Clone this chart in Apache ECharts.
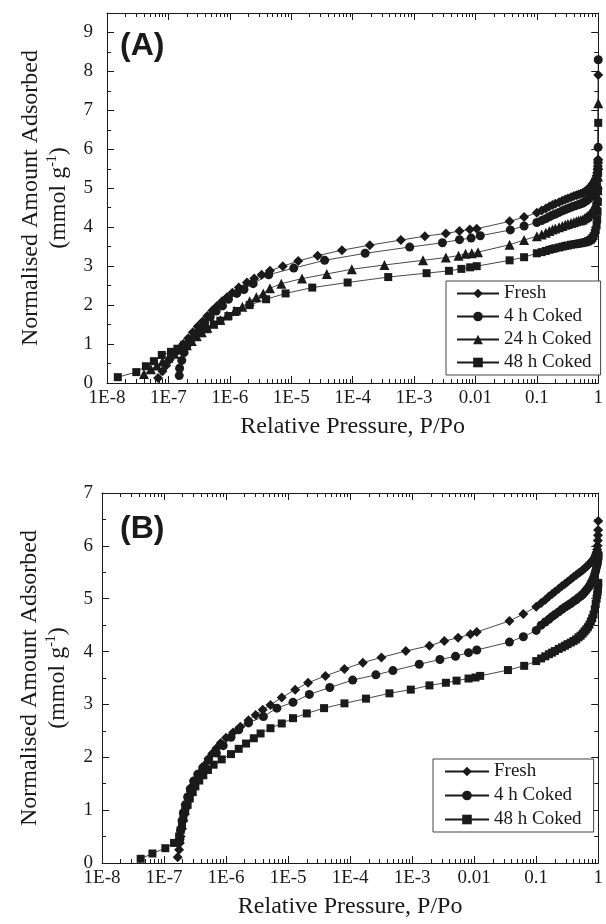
<!DOCTYPE html>
<html>
<head>
<meta charset="utf-8">
<script src="https://cdn.jsdelivr.net/npm/echarts@6/dist/echarts.min.js"></script>
<style>
  html, body { margin: 0; padding: 0; background: #fff; }
  #chart { width: 606px; height: 924px; }
</style>
</head>
<body>
<div id="chart"></div>
<script>
// Nitrogen isotherms, (A) and (B). x = P/Po (log), y = mmol/g.
var seriesNames = ['Fresh', '4 h Coked', '24 h Coked', '48 h Coked'];
var decadeTicks = ['1E-8', '1E-7', '1E-6', '1E-5', '1E-4', '1E-3', '0.01', '0.1', '1'];

// low / mid pressure points, [P/Po, amount]
var freshA = [[6.8e-8,0.13],[8e-8,0.3],[9.2e-8,0.45],[1.05e-7,0.6],[1.25e-7,0.75],[1.5e-7,0.88],[1.75e-7,1.0],[2.1e-7,1.15],[2.5e-7,1.3],[3e-7,1.45],[3.6e-7,1.58],[4.3e-7,1.72],[5.2e-7,1.86],[6.2e-7,1.98],[7.5e-7,2.1],[9e-7,2.2],[1.1e-6,2.32],[1.4e-6,2.45],[1.9e-6,2.58],[2.5e-6,2.68],[3.3e-6,2.78],[4.5e-6,2.88],[7.3e-6,3.0],[1.3e-5,3.13],[2.7e-5,3.27],[6.7e-5,3.41],[1.9e-4,3.54],[6.1e-4,3.67],[1.5e-3,3.77],[3.3e-3,3.84],[5.5e-3,3.9],[8.1e-3,3.94],[1.05e-2,3.96],[3.6e-2,4.15],[6.2e-2,4.26],[0.1,4.37]];
var coked4A = [[1.5e-7,0.19],[1.52e-7,0.38],[1.65e-7,0.58],[1.8e-7,0.78],[2e-7,0.95],[2.3e-7,1.1],[2.7e-7,1.25],[3.2e-7,1.4],[3.9e-7,1.55],[4.8e-7,1.7],[6e-7,1.85],[7.6e-7,1.98],[9.5e-7,2.15],[1.3e-6,2.3],[1.7e-6,2.4],[2.4e-6,2.55],[4.3e-6,2.78],[1.1e-5,2.95],[3.5e-5,3.15],[1.6e-4,3.33],[8.5e-4,3.49],[2.9e-3,3.6],[5.5e-3,3.68],[8.5e-3,3.72],[1.2e-2,3.78],[3.7e-2,3.93],[6.2e-2,4.03],[0.1,4.12]];
var coked24A = [[4e-8,0.23],[5.2e-8,0.35],[6.5e-8,0.45],[8e-8,0.55],[1e-7,0.65],[1.25e-7,0.75],[1.6e-7,0.86],[2e-7,0.97],[2.4e-7,1.08],[2.9e-7,1.2],[3.5e-7,1.3],[4.3e-7,1.42],[5.4e-7,1.53],[7e-7,1.62],[9e-7,1.73],[1.2e-6,1.85],[1.6e-6,1.96],[2.1e-6,2.1],[2.7e-6,2.2],[3.5e-6,2.3],[4.5e-6,2.43],[6.9e-6,2.55],[1.5e-5,2.68],[3.8e-5,2.8],[9.7e-5,2.92],[3.3e-4,3.03],[1.4e-3,3.15],[3.3e-3,3.22],[5.3e-3,3.27],[6.9e-3,3.32],[8.7e-3,3.33],[1.1e-2,3.36],[3.6e-2,3.55],[6.2e-2,3.67],[0.1,3.77]];
var coked48A = [[1.5e-8,0.15],[3e-8,0.28],[4.3e-8,0.43],[5.8e-8,0.56],[7.8e-8,0.72],[1.1e-7,0.8],[1.4e-7,0.88],[1.8e-7,0.98],[2.2e-7,1.07],[2.7e-7,1.18],[3.3e-7,1.28],[4.2e-7,1.38],[5.5e-7,1.5],[7e-7,1.6],[9.5e-7,1.72],[1.3e-6,1.85],[2.1e-6,2.0],[3.9e-6,2.15],[8.1e-6,2.3],[2.2e-5,2.45],[8.3e-5,2.58],[3.8e-4,2.72],[1.6e-3,2.82],[3.7e-3,2.88],[5.9e-3,2.93],[8.2e-3,2.97],[1.05e-2,3.0],[3.6e-2,3.15],[6.2e-2,3.23],[0.1,3.33]];

var freshB = [[1.66e-7,0.11],[1.75e-7,0.25],[1.8e-7,0.38],[1.85e-7,0.5],[1.95e-7,0.65],[2.05e-7,0.8],[2.15e-7,0.92],[2.3e-7,1.05],[2.5e-7,1.2],[2.7e-7,1.35],[3e-7,1.48],[3.4e-7,1.6],[3.9e-7,1.72],[4.5e-7,1.85],[5.2e-7,1.97],[6e-7,2.07],[7e-7,2.17],[8.2e-7,2.27],[1e-6,2.37],[1.3e-6,2.47],[1.7e-6,2.58],[2.3e-6,2.7],[3e-6,2.8],[3.9e-6,2.9],[5.2e-6,2.99],[7.9e-6,3.13],[1.3e-5,3.28],[2.1e-5,3.41],[4e-5,3.54],[8.1e-5,3.67],[1.6e-4,3.79],[3.2e-4,3.89],[7.9e-4,4.01],[1.9e-3,4.11],[3.3e-3,4.2],[5.5e-3,4.26],[8.7e-3,4.33],[1.1e-2,4.37],[3.7e-2,4.58],[6.2e-2,4.71],[0.1,4.85]];
var coked4B = [[1.8e-7,0.45],[1.85e-7,0.62],[1.95e-7,0.8],[2.05e-7,0.95],[2.2e-7,1.1],[2.4e-7,1.25],[2.65e-7,1.4],[3e-7,1.55],[3.5e-7,1.68],[4.2e-7,1.8],[5.2e-7,1.95],[7e-7,2.08],[9e-7,2.22],[1.2e-6,2.38],[1.6e-6,2.52],[2.3e-6,2.65],[4e-6,2.77],[6.6e-6,2.93],[1.2e-5,3.04],[2.2e-5,3.19],[4.7e-5,3.32],[1.1e-4,3.46],[2.6e-4,3.56],[4.9e-4,3.64],[1.3e-3,3.76],[2.8e-3,3.85],[5e-3,3.91],[8.1e-3,3.98],[1.1e-2,4.03],[3.7e-2,4.18],[6.2e-2,4.28],[0.1,4.4]];
var coked48B = [[4.2e-8,0.08],[6.5e-8,0.18],[1.05e-7,0.28],[1.45e-7,0.38],[1.75e-7,0.5],[1.85e-7,0.62],[1.95e-7,0.74],[2.05e-7,0.86],[2.2e-7,0.98],[2.4e-7,1.1],[2.6e-7,1.22],[2.9e-7,1.34],[3.2e-7,1.45],[3.7e-7,1.56],[4.3e-7,1.66],[5.1e-7,1.76],[6.3e-7,1.86],[8.5e-7,1.96],[1.2e-6,2.06],[1.6e-6,2.16],[2.1e-6,2.26],[2.8e-6,2.36],[3.6e-6,2.45],[5.2e-6,2.55],[7.9e-6,2.64],[1.2e-5,2.74],[2e-5,2.83],[3.8e-5,2.93],[8.1e-5,3.02],[1.8e-4,3.11],[4.3e-4,3.21],[9.5e-4,3.28],[1.9e-3,3.36],[3.5e-3,3.41],[5.2e-3,3.45],[8.1e-3,3.49],[1.05e-2,3.51],[1.25e-2,3.54],[3.5e-2,3.65],[6.4e-2,3.73],[0.1,3.82]];

// high pressure end (dense band + rise at P/Po -> 1)
var pHigh = [0.12,0.14,0.16,0.18,0.2,0.23,0.26,0.29,0.32,0.36,0.4,0.44,0.48,0.52,0.56,0.6,0.64,0.68,0.72,0.76,0.8,0.84,0.88,0.91,0.94,0.96,0.975,0.985,0.99,0.995,1.0];
var freshAHigh   = [4.43,4.48,4.53,4.57,4.6,4.64,4.68,4.71,4.74,4.77,4.8,4.82,4.84,4.86,4.88,4.91,4.94,4.97,5.01,5.05,5.1,5.15,5.2,5.25,5.32,5.4,5.48,5.57,5.65,5.74,7.91];
var coked4AHigh  = [4.17,4.22,4.27,4.31,4.34,4.38,4.42,4.45,4.48,4.51,4.54,4.56,4.58,4.6,4.62,4.65,4.68,4.71,4.75,4.79,4.84,4.9,4.96,5.03,5.12,5.22,5.35,5.5,5.7,6.05,8.3];
var coked24AHigh = [3.81,3.86,3.9,3.94,3.97,4.0,4.03,4.06,4.08,4.11,4.13,4.15,4.17,4.18,4.2,4.23,4.26,4.29,4.33,4.37,4.42,4.48,4.55,4.62,4.72,4.82,4.95,5.1,5.3,5.6,7.18];
var coked48AHigh = [3.36,3.39,3.42,3.44,3.46,3.48,3.5,3.52,3.53,3.55,3.56,3.57,3.58,3.59,3.6,3.61,3.62,3.64,3.66,3.68,3.72,3.77,3.85,3.93,4.05,4.2,4.4,4.65,4.95,5.4,6.68];
var freshBHigh   = [4.92,4.98,5.04,5.09,5.13,5.19,5.24,5.28,5.32,5.37,5.41,5.45,5.48,5.51,5.54,5.57,5.6,5.63,5.66,5.69,5.72,5.75,5.79,5.83,5.88,5.93,6.0,6.1,6.2,6.3,6.47];
var coked4BHigh  = [4.5,4.56,4.61,4.66,4.7,4.75,4.8,4.84,4.87,4.91,4.95,4.98,5.02,5.05,5.08,5.12,5.16,5.2,5.24,5.29,5.34,5.4,5.47,5.53,5.6,5.65,5.7,5.74,5.77,5.8,5.85];
var coked48BHigh = [3.87,3.91,3.95,3.98,4.01,4.05,4.08,4.11,4.14,4.17,4.2,4.23,4.27,4.3,4.34,4.38,4.42,4.46,4.51,4.57,4.63,4.7,4.8,4.9,5.0,5.07,5.13,5.18,5.22,5.26,5.3];

var INK = '#1a1a1a';
var SERIF = '"Liberation Serif", "Times New Roman", serif';

function joinHigh(low, high) {
  return low.concat(pHigh.map(function (p, i) { return [p, high[i]]; }));
}

var panelA = [
  { name: 'Fresh', symbol: 'diamond', size: 10, data: joinHigh(freshA, freshAHigh) },
  { name: '4 h Coked', symbol: 'circle', size: 9, data: joinHigh(coked4A, coked4AHigh) },
  { name: '24 h Coked', symbol: 'triangle', size: 10, data: joinHigh(coked24A, coked24AHigh) },
  { name: '48 h Coked', symbol: 'rect', size: 8, data: joinHigh(coked48A, coked48AHigh) }
];
var panelB = [
  { name: 'Fresh', symbol: 'diamond', size: 10, data: joinHigh(freshB, freshBHigh) },
  { name: '4 h Coked', symbol: 'circle', size: 9, data: joinHigh(coked4B, coked4BHigh) },
  { name: '48 h Coked', symbol: 'rect', size: 8, data: joinHigh(coked48B, coked48BHigh) }
];

// minor tick positions (2..9 per decade) in log10 space
var minorLog = [];
for (var d = -8; d < 0; d++) {
  for (var k = 2; k <= 9; k++) minorLog.push(d + Math.log10(k));
}

function logLabel(v) {
  var e = Math.round(Math.log10(v));
  return decadeTicks[e + 8];
}

function logAxis(grid, pos, labels) {
  return {
    type: 'log', logBase: 10, gridIndex: grid, position: pos,
    min: 1e-8, max: 1, splitNumber: 8,
    axisLine: { onZero: false, lineStyle: { color: INK, width: 1 } },
    axisTick: { inside: true, length: 7, lineStyle: { color: INK } },
    splitLine: { show: false },
    axisLabel: labels ? { show: true, formatter: logLabel, margin: 6, fontFamily: SERIF, fontSize: 19, color: INK } : { show: false },
    name: labels ? 'Relative Pressure, P/Po' : '',
    nameLocation: 'middle', nameGap: 32,
    nameTextStyle: { fontFamily: SERIF, fontSize: 24, color: INK }
  };
}
function minorAxis(grid, pos) {
  return {
    type: 'value', gridIndex: grid, position: pos, min: -8, max: 0,
    axisLine: { show: false, onZero: false },
    axisTick: { inside: true, length: 4, customValues: minorLog, lineStyle: { color: INK } },
    axisLabel: { show: false },
    splitLine: { show: false }
  };
}
function yAxis(grid, pos, max, margin, gap) {
  var left = pos === 'left';
  return {
    type: 'value', gridIndex: grid, position: pos, min: 0, max: max, interval: 1,
    axisLine: { show: true, onZero: false, lineStyle: { color: INK, width: 1 } },
    axisTick: { show: true, inside: true, length: 7, lineStyle: { color: INK } },
    minorTick: { show: true, splitNumber: 2, length: 4, lineStyle: { color: INK } },
    splitLine: { show: false },
    axisLabel: left ? { show: true, margin: margin, showMaxLabel: max === 7, fontFamily: SERIF, fontSize: 19, color: INK } : { show: false },
    name: left ? '{n|Normalised Amount Adsorbed}\n{n|(mmol g}{s|-1}{n|)}' : '',
    nameLocation: 'middle', nameRotate: 90, nameGap: gap,
    nameTextStyle: {
      fontFamily: SERIF, fontSize: 24, color: INK,
      rich: {
        n: { fontFamily: SERIF, fontSize: 24, color: INK, lineHeight: 28 },
        s: { fontFamily: SERIF, fontSize: 14, color: INK, lineHeight: 28, verticalAlign: 'top' }
      }
    }
  };
}

var series = [];
function addPanel(list, xi, yi) {
  list.forEach(function (s) {
    series.push({
      type: 'line', name: s.name, data: s.data,
      xAxisIndex: xi, yAxisIndex: yi,
      symbol: s.symbol, symbolSize: s.size, showAllSymbol: true, clip: false,
      lineStyle: { color: INK, width: 0.8 },
      itemStyle: { color: INK },
      emphasis: { disabled: true }
    });
  });
}
addPanel(panelA, 0, 0);
addPanel(panelB, 4, 2);

function legend(left, top, data, w, pad, gap) {
  return {
    orient: 'vertical', left: left, top: top, data: data,
    itemWidth: w, itemHeight: 12, itemGap: gap, padding: pad,
    borderColor: '#444', borderWidth: 1, backgroundColor: '#fff',
    selectedMode: false,
    textStyle: { fontFamily: SERIF, fontSize: 19, color: INK }
  };
}

var chart = echarts.init(document.getElementById('chart'), null, { renderer: 'canvas' });
chart.setOption({
  animation: false,
  backgroundColor: '#fff',
  grid: [
    { left: 107, right: 3, top: 13, height: 370 },
    { left: 102, right: 2, top: 493, height: 370 }
  ],
  xAxis: [
    logAxis(0, 'bottom', true), logAxis(0, 'top', false), minorAxis(0, 'bottom'), minorAxis(0, 'top'),
    logAxis(1, 'bottom', true), logAxis(1, 'top', false), minorAxis(1, 'bottom'), minorAxis(1, 'top')
  ],
  yAxis: [
    yAxis(0, 'left', 9.5, 14, 34), yAxis(0, 'right', 9.5),
    yAxis(1, 'left', 7, 9, 30), yAxis(1, 'right', 7)
  ],
  legend: [
    legend(446, 281, seriesNames, 42, [3, 9, 3, 10], 4),
    legend(433, 759, ['Fresh', '4 h Coked', '48 h Coked'], 44, [3, 12, 3, 11], 5)
  ],
  graphic: [
    { type: 'text', left: 120, top: 30, style: { text: '(A)', font: 'bold 32px "Liberation Sans", Arial, sans-serif', fill: INK } },
    { type: 'text', left: 120, top: 513, style: { text: '(B)', font: 'bold 32px "Liberation Sans", Arial, sans-serif', fill: INK } }
  ],
  series: series
});
</script>
</body>
</html>
